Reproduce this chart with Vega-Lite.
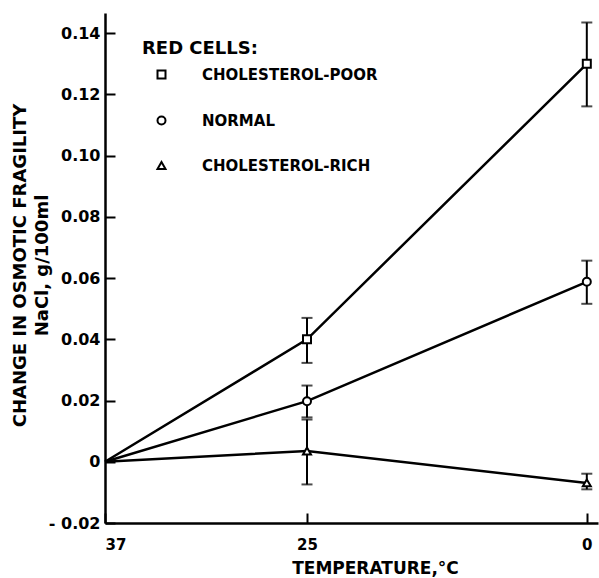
{
  "$schema": "https://vega.github.io/schema/vega-lite/v6.json",
  "width": 493,
  "height": 510,
  "autosize": "none",
  "padding": {"left": 105, "top": 13, "right": 1, "bottom": 55},
  "background": "white",
  "config": {
    "view": {"stroke": null},
    "font": "DejaVu Sans",
    "axis": {
      "grid": false,
      "domainColor": "black",
      "domainWidth": 2.5,
      "tickColor": "black",
      "tickWidth": 2,
      "tickSize": -10,
      "labelColor": "black",
      "labelFont": "DejaVu Sans",
      "labelFontWeight": "bold",
      "titleColor": "black",
      "titleFont": "DejaVu Sans",
      "titleFontWeight": "bold"
    }
  },
  "data": {
    "values": [
      {"series": "CHOLESTEROL-POOR", "temp": 37, "value": 0, "lo": null, "hi": null},
      {"series": "CHOLESTEROL-POOR", "temp": 25, "value": 0.040, "lo": 0.0323, "hi": 0.047},
      {"series": "CHOLESTEROL-POOR", "temp": 0, "value": 0.130, "lo": 0.1161, "hi": 0.1435},
      {"series": "NORMAL", "temp": 37, "value": 0, "lo": null, "hi": null},
      {"series": "NORMAL", "temp": 25, "value": 0.0198, "lo": 0.0145, "hi": 0.0249},
      {"series": "NORMAL", "temp": 0, "value": 0.0588, "lo": 0.0516, "hi": 0.0657},
      {"series": "CHOLESTEROL-RICH", "temp": 37, "value": 0, "lo": null, "hi": null},
      {"series": "CHOLESTEROL-RICH", "temp": 25, "value": 0.0035, "lo": -0.0074, "hi": 0.0138},
      {"series": "CHOLESTEROL-RICH", "temp": 0, "value": -0.0069, "lo": -0.009, "hi": -0.0039}
    ]
  },
  "layer": [
    {
      "mark": {"type": "line", "color": "black", "strokeWidth": 2.5},
      "encoding": {
        "x": {
          "field": "temp",
          "type": "quantitative",
          "scale": {"domain": [37, 25, -1], "range": [0, 202, 493], "nice": false, "zero": false},
          "axis": {
            "values": [37, 25, 0],
            "format": "d",
            "title": "TEMPERATURE,°C",
            "labelFontSize": 15,
            "labelPadding": 24,
            "titleFontSize": 17,
            "titleX": 270,
            "titleY": 50,
            "titleBaseline": "alphabetic"
          }
        },
        "y": {
          "field": "value",
          "type": "quantitative",
          "scale": {"domain": [-0.02, 0.1466], "nice": false, "zero": false},
          "axis": {
            "values": [-0.02, 0, 0.02, 0.04, 0.06, 0.08, 0.1, 0.12, 0.14],
            "labelExpr": "datum.value < -0.001 ? '- 0.02' : (abs(datum.value) < 0.001 ? '0' : format(datum.value, '.2f'))",
            "labelFontSize": 16,
            "labelPadding": 15,
            "title": ["CHANGE IN OSMOTIC FRAGILITY", "NaCl,  g/100ml"],
            "titleFontSize": 18,
            "titleLineHeight": 22,
            "titleAngle": -90,
            "titleX": -85,
            "titleY": 252,
            "titleAlign": "center",
            "titleBaseline": "middle"
          }
        },
        "detail": {"field": "series"}
      }
    },
    {
      "transform": [{"filter": "datum.lo != null"}],
      "mark": {"type": "errorbar", "color": "black", "thickness": 2, "ticks": {"size": 11, "thickness": 2, "color": "black"}},
      "encoding": {
        "x": {"field": "temp", "type": "quantitative", "axis": {"title": "TEMPERATURE,°C"}},
        "y": {"field": "lo", "type": "quantitative", "axis": {"title": ["CHANGE IN OSMOTIC FRAGILITY", "NaCl,  g/100ml"]}},
        "y2": {"field": "hi"}
      }
    },
    {
      "transform": [{"filter": "datum.lo != null"}],
      "mark": {"type": "point", "filled": false, "color": "black", "fill": "white", "strokeWidth": 2, "size": 64, "opacity": 1, "fillOpacity": 1},
      "encoding": {
        "x": {"field": "temp", "type": "quantitative", "axis": {"title": "TEMPERATURE,°C"}},
        "y": {"field": "value", "type": "quantitative", "axis": {"title": ["CHANGE IN OSMOTIC FRAGILITY", "NaCl,  g/100ml"]}},
        "shape": {
          "field": "series",
          "type": "nominal",
          "scale": {"domain": ["CHOLESTEROL-POOR", "NORMAL", "CHOLESTEROL-RICH"], "range": ["square", "circle", "triangle-up"]},
          "legend": {
            "title": "RED CELLS:",
            "orient": "none",
            "legendX": 37,
            "legendY": 27,
            "titleFont": "DejaVu Sans",
            "titleFontSize": 18,
            "titleFontWeight": "bold",
            "titleColor": "black",
            "titlePadding": 9,
            "labelFont": "DejaVu Sans",
            "labelFontSize": 15,
            "labelFontWeight": "bold",
            "labelColor": "black",
            "labelOffset": 33,
            "labelLimit": 400,
            "symbolSize": 64,
            "symbolStrokeWidth": 2,
            "symbolOffset": 12,
            "rowPadding": 29
          }
        }
      }
    }
  ]
}
